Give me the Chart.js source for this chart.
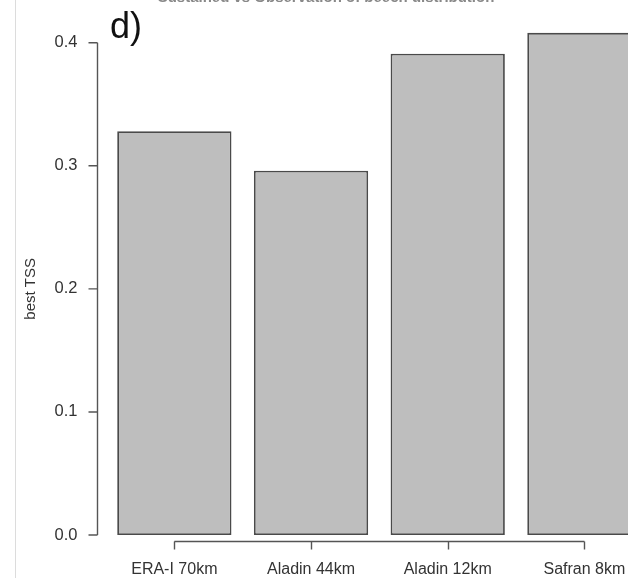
<!DOCTYPE html>
<html>
<head>
<meta charset="utf-8">
<script src="https://cdn.jsdelivr.net/npm/chart.js@4/dist/chart.umd.min.js"></script>
<style>
  html, body { margin: 0; padding: 0; background: #fff; overflow: hidden; }
  #wrap { position: relative; width: 700px; height: 578px; }
  canvas { display: block; }
</style>
</head>
<body>
<div id="wrap"><canvas id="c" width="700" height="578"></canvas></div>
<script>
// Forcing datasets compared by their best TSS score
const categories = ['ERA-I 70km', 'Aladin 44km', 'Aladin 12km', 'Safran 8km'];
const bestTSS = [0.328, 0.296, 0.391, 0.408];
const yTickValues = [0.0, 0.1, 0.2, 0.3, 0.4];
const yTickLabels = ['0.0', '0.1', '0.2', '0.3', '0.4'];
const yAxisTitle = 'best TSS';
const panelLetter = 'd)';
const panelTitle = 'Sustained vs Observation of beech distribution';

const FONT = '"Liberation Sans", Arial, sans-serif';

// R-style axes: detached y axis with tick marks, x axis spanning the bar centres
const rAxes = {
  id: 'rAxes',
  afterDraw(chart) {
    const ctx = chart.ctx;
    const xs = chart.scales.x;
    const ys = chart.scales.y;
    const area = chart.chartArea;
    ctx.save();

    // faint frame line on the left
    ctx.strokeStyle = '#dcdcdc';
    ctx.lineWidth = 1;
    ctx.beginPath();
    ctx.moveTo(15.5, 0);
    ctx.lineTo(15.5, chart.height);
    ctx.stroke();

    // y axis
    const ax = Math.round(area.left - 9) + 0.5;
    const y0 = ys.getPixelForValue(yTickValues[0]);
    const y1 = ys.getPixelForValue(yTickValues[yTickValues.length - 1]);
    ctx.strokeStyle = '#555';
    ctx.lineWidth = 1.4;
    ctx.beginPath();
    ctx.moveTo(ax, y0);
    ctx.lineTo(ax, y1);
    yTickValues.forEach(v => {
      const py = ys.getPixelForValue(v);
      ctx.moveTo(ax, py);
      ctx.lineTo(ax - 9, py);
    });
    ctx.stroke();

    ctx.fillStyle = '#333';
    ctx.font = '16.5px ' + FONT;
    ctx.textAlign = 'right';
    ctx.textBaseline = 'middle';
    yTickValues.forEach((v, i) => {
      ctx.fillText(yTickLabels[i], ax - 20, ys.getPixelForValue(v));
    });

    // y axis title
    ctx.save();
    ctx.translate(31, (y0 + y1) / 2);
    ctx.rotate(-Math.PI / 2);
    ctx.textAlign = 'center';
    ctx.textBaseline = 'middle';
    ctx.font = '15px ' + FONT;
    ctx.fillText(yAxisTitle, 0, 0);
    ctx.restore();

    // x axis
    const xy = Math.round(y0 + 6) + 0.5;
    const xFirst = xs.getPixelForValue(0);
    const xLast = xs.getPixelForValue(categories.length - 1);
    ctx.beginPath();
    ctx.moveTo(xFirst, xy);
    ctx.lineTo(xLast, xy);
    categories.forEach((c, i) => {
      const px = Math.round(xs.getPixelForValue(i)) + 0.5;
      ctx.moveTo(px, xy);
      ctx.lineTo(px, xy + 8);
    });
    ctx.stroke();

    ctx.textAlign = 'center';
    ctx.textBaseline = 'middle';
    ctx.font = '16px ' + FONT;
    categories.forEach((c, i) => {
      ctx.fillText(c, xs.getPixelForValue(i), y0 + 35);
    });

    // panel letter
    ctx.fillStyle = '#111';
    ctx.font = '36px ' + FONT;
    ctx.textAlign = 'left';
    ctx.textBaseline = 'alphabetic';
    ctx.fillText(panelLetter, 110, 38);

    // title, cut at the top edge
    ctx.fillStyle = '#888';
    ctx.font = 'bold 15px ' + FONT;
    ctx.textAlign = 'center';
    ctx.fillText(panelTitle, 326, 2);

    ctx.restore();
  }
};

new Chart(document.getElementById('c'), {
  type: 'bar',
  data: {
    labels: categories,
    datasets: [{
      data: bestTSS,
      backgroundColor: '#bebebe',
      borderColor: '#4a4a4a',
      borderWidth: 1.8,
      borderSkipped: false,
      categoryPercentage: 1.0,
      barPercentage: 0.836,
      clip: false
    }]
  },
  options: {
    responsive: false,
    animation: false,
    layout: { padding: { left: 106, right: 47.25, top: 42.7, bottom: 43 } },
    plugins: { legend: { display: false }, tooltip: { enabled: false }, title: { display: false } },
    scales: {
      x: { display: false },
      y: { display: false, min: 0, max: 0.4 }
    }
  },
  plugins: [rAxes]
});
</script>
</body>
</html>
